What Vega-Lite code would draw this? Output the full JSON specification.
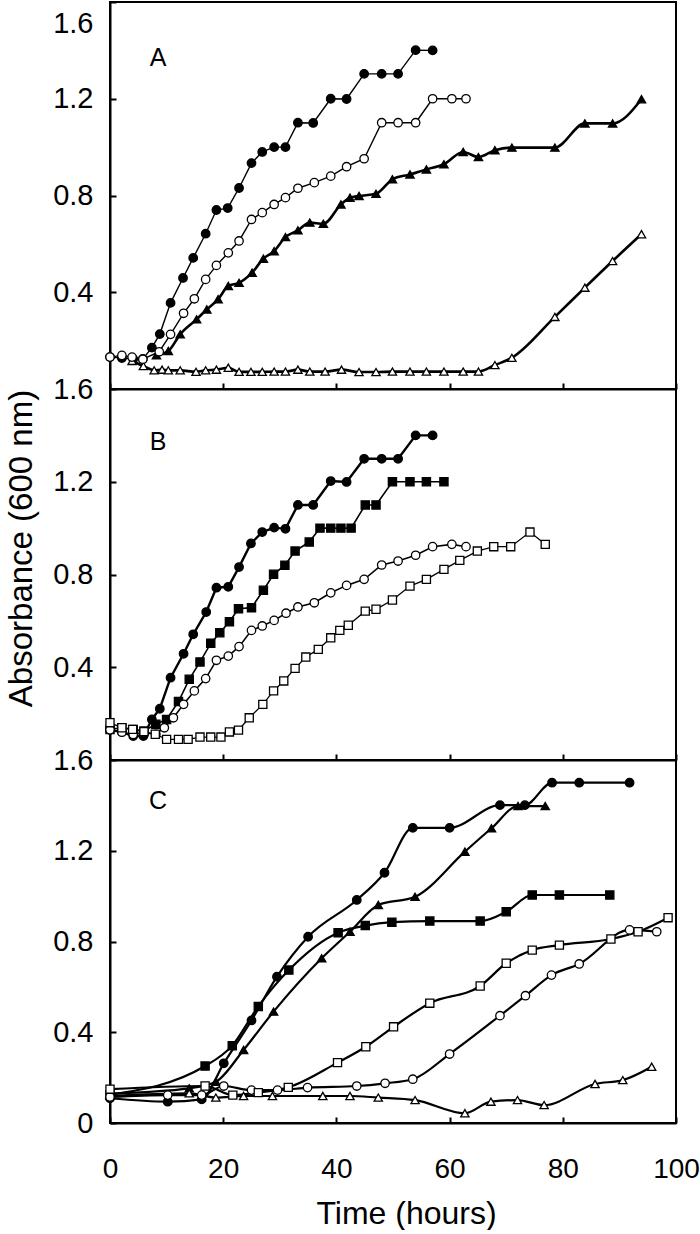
{
"$schema": "https://vega.github.io/schema/vega-lite/v6.json",
"padding": {"left": 4, "top": 0, "right": 2, "bottom": 0},
"spacing": 0,
"bounds": "flush",
"config": {
 "font": "Liberation Sans",
 "view": {"stroke": "black", "strokeWidth": 2},
 "axis": {"labelFont": "Liberation Sans", "titleFont": "Liberation Sans", "labelColor": "black", "titleColor": "black", "domainColor": "black", "tickColor": "black", "domainWidth": 2, "tickWidth": 2, "tickSize": -6, "grid": false, "labelFontSize": 29, "titleFontSize": 33, "titleFontWeight": "normal"},
 "axisY": {"labelPadding": 23, "titlePadding": 14},
 "axisX": {"labelPadding": 38, "titlePadding": 15, "labelFlush": false, "labelFontSize": 28}
},
"datasets": {
 "lab": [{"p":"A","t":8.5,"v":1.37,"txt":"A"},{"p":"B","t":8.5,"v":1.37,"txt":"B"},{"p":"C","t":8.5,"v":1.42,"txt":"C"}],
 "d": [
{"p":"A","s":"fc","t":0,"v":0.132},{"p":"A","s":"fc","t":2.1,"v":0.128},{"p":"A","s":"fc","t":4.1,"v":0.124},{"p":"A","s":"fc","t":5.8,"v":0.124},{"p":"A","s":"fc","t":7.4,"v":0.171},{"p":"A","s":"fc","t":8.8,"v":0.227},{"p":"A","s":"fc","t":10.7,"v":0.356},{"p":"A","s":"fc","t":12.9,"v":0.459},{"p":"A","s":"fc","t":14.7,"v":0.542},{"p":"A","s":"fc","t":16.9,"v":0.642},{"p":"A","s":"fc","t":18.8,"v":0.74},{"p":"A","s":"fc","t":20.8,"v":0.748},{"p":"A","s":"fc","t":22.8,"v":0.831},{"p":"A","s":"fc","t":25,"v":0.934},{"p":"A","s":"fc","t":26.9,"v":0.98},{"p":"A","s":"fc","t":29,"v":1.0},{"p":"A","s":"fc","t":31,"v":1.0},{"p":"A","s":"fc","t":33.2,"v":1.101},{"p":"A","s":"fc","t":35.9,"v":1.1},{"p":"A","s":"fc","t":39,"v":1.2},{"p":"A","s":"fc","t":41.8,"v":1.199},{"p":"A","s":"fc","t":44.9,"v":1.303},{"p":"A","s":"fc","t":48,"v":1.303},{"p":"A","s":"fc","t":50.9,"v":1.303},{"p":"A","s":"fc","t":54,"v":1.401},{"p":"A","s":"fc","t":57,"v":1.4},
{"p":"A","s":"ft","t":8.2,"v":0.14},{"p":"A","s":"ft","t":10.3,"v":0.157},{"p":"A","s":"ft","t":12.4,"v":0.226},{"p":"A","s":"ft","t":15.3,"v":0.288},{"p":"A","s":"ft","t":17.1,"v":0.329},{"p":"A","s":"ft","t":19.1,"v":0.371},{"p":"A","s":"ft","t":20.9,"v":0.426},{"p":"A","s":"ft","t":22.8,"v":0.439},{"p":"A","s":"ft","t":25.1,"v":0.481},{"p":"A","s":"ft","t":27.1,"v":0.539},{"p":"A","s":"ft","t":29,"v":0.57},{"p":"A","s":"ft","t":31,"v":0.628},{"p":"A","s":"ft","t":33.2,"v":0.656},{"p":"A","s":"ft","t":35.3,"v":0.688},{"p":"A","s":"ft","t":37.7,"v":0.683},{"p":"A","s":"ft","t":40.8,"v":0.763},{"p":"A","s":"ft","t":42.4,"v":0.791},{"p":"A","s":"ft","t":44,"v":0.798},{"p":"A","s":"ft","t":47,"v":0.807},{"p":"A","s":"ft","t":49.9,"v":0.867},{"p":"A","s":"ft","t":53,"v":0.887},{"p":"A","s":"ft","t":55.9,"v":0.908},{"p":"A","s":"ft","t":59,"v":0.929},{"p":"A","s":"ft","t":62.4,"v":0.98},{"p":"A","s":"ft","t":65.1,"v":0.959},{"p":"A","s":"ft","t":68,"v":0.987},{"p":"A","s":"ft","t":71,"v":0.998},{"p":"A","s":"ft","t":78.6,"v":0.998},{"p":"A","s":"ft","t":83.9,"v":1.098},{"p":"A","s":"ft","t":88.8,"v":1.098},{"p":"A","s":"ft","t":93.9,"v":1.198},
{"p":"A","s":"ot","t":3.9,"v":0.116},{"p":"A","s":"ot","t":5.9,"v":0.095},{"p":"A","s":"ot","t":7.8,"v":0.077},{"p":"A","s":"ot","t":9.2,"v":0.08},{"p":"A","s":"ot","t":10.3,"v":0.077},{"p":"A","s":"ot","t":12.4,"v":0.077},{"p":"A","s":"ot","t":15.2,"v":0.071},{"p":"A","s":"ot","t":16.9,"v":0.077},{"p":"A","s":"ot","t":18.8,"v":0.08},{"p":"A","s":"ot","t":20.9,"v":0.088},{"p":"A","s":"ot","t":22.8,"v":0.071},{"p":"A","s":"ot","t":24.9,"v":0.071},{"p":"A","s":"ot","t":26.9,"v":0.071},{"p":"A","s":"ot","t":29,"v":0.072},{"p":"A","s":"ot","t":31,"v":0.072},{"p":"A","s":"ot","t":33.2,"v":0.08},{"p":"A","s":"ot","t":35.3,"v":0.072},{"p":"A","s":"ot","t":38,"v":0.072},{"p":"A","s":"ot","t":40.9,"v":0.08},{"p":"A","s":"ot","t":44,"v":0.07},{"p":"A","s":"ot","t":47,"v":0.07},{"p":"A","s":"ot","t":49.9,"v":0.072},{"p":"A","s":"ot","t":53,"v":0.072},{"p":"A","s":"ot","t":55.9,"v":0.072},{"p":"A","s":"ot","t":59,"v":0.072},{"p":"A","s":"ot","t":62.4,"v":0.072},{"p":"A","s":"ot","t":65.1,"v":0.072},{"p":"A","s":"ot","t":68,"v":0.099},{"p":"A","s":"ot","t":71,"v":0.129},{"p":"A","s":"ot","t":78.6,"v":0.298},{"p":"A","s":"ot","t":83.9,"v":0.419},{"p":"A","s":"ot","t":88.8,"v":0.529},{"p":"A","s":"ot","t":93.9,"v":0.64},
{"p":"A","s":"oc","t":0,"v":0.132},{"p":"A","s":"oc","t":2.1,"v":0.139},{"p":"A","s":"oc","t":3.9,"v":0.132},{"p":"A","s":"oc","t":5.8,"v":0.123},{"p":"A","s":"oc","t":8.7,"v":0.154},{"p":"A","s":"oc","t":10.7,"v":0.226},{"p":"A","s":"oc","t":13,"v":0.313},{"p":"A","s":"oc","t":14.9,"v":0.373},{"p":"A","s":"oc","t":16.9,"v":0.453},{"p":"A","s":"oc","t":18.8,"v":0.511},{"p":"A","s":"oc","t":20.9,"v":0.563},{"p":"A","s":"oc","t":22.8,"v":0.612},{"p":"A","s":"oc","t":25,"v":0.701},{"p":"A","s":"oc","t":26.9,"v":0.729},{"p":"A","s":"oc","t":29,"v":0.763},{"p":"A","s":"oc","t":31,"v":0.791},{"p":"A","s":"oc","t":33.2,"v":0.83},{"p":"A","s":"oc","t":36.1,"v":0.853},{"p":"A","s":"oc","t":39,"v":0.88},{"p":"A","s":"oc","t":41.8,"v":0.919},{"p":"A","s":"oc","t":44.9,"v":0.952},{"p":"A","s":"oc","t":48,"v":1.101},{"p":"A","s":"oc","t":50.9,"v":1.101},{"p":"A","s":"oc","t":54,"v":1.101},{"p":"A","s":"oc","t":57,"v":1.2},{"p":"A","s":"oc","t":60.4,"v":1.2},{"p":"A","s":"oc","t":62.9,"v":1.2},
{"p":"B","s":"fc","t":0,"v":0.13},{"p":"B","s":"fc","t":2.1,"v":0.12},{"p":"B","s":"fc","t":4.1,"v":0.103},{"p":"B","s":"fc","t":5.9,"v":0.103},{"p":"B","s":"fc","t":7.4,"v":0.175},{"p":"B","s":"fc","t":8.8,"v":0.221},{"p":"B","s":"fc","t":10.7,"v":0.355},{"p":"B","s":"fc","t":13,"v":0.458},{"p":"B","s":"fc","t":14.7,"v":0.542},{"p":"B","s":"fc","t":17,"v":0.638},{"p":"B","s":"fc","t":18.8,"v":0.743},{"p":"B","s":"fc","t":20.9,"v":0.747},{"p":"B","s":"fc","t":22.8,"v":0.832},{"p":"B","s":"fc","t":24.9,"v":0.934},{"p":"B","s":"fc","t":26.9,"v":0.983},{"p":"B","s":"fc","t":29,"v":1.002},{"p":"B","s":"fc","t":31,"v":0.997},{"p":"B","s":"fc","t":33.2,"v":1.1},{"p":"B","s":"fc","t":35.9,"v":1.1},{"p":"B","s":"fc","t":39,"v":1.203},{"p":"B","s":"fc","t":41.8,"v":1.199},{"p":"B","s":"fc","t":44.9,"v":1.299},{"p":"B","s":"fc","t":48,"v":1.299},{"p":"B","s":"fc","t":50.9,"v":1.299},{"p":"B","s":"fc","t":54,"v":1.4},{"p":"B","s":"fc","t":57,"v":1.4},
{"p":"B","s":"fs","t":0,"v":0.132},{"p":"B","s":"fs","t":2.1,"v":0.139},{"p":"B","s":"fs","t":4.1,"v":0.132},{"p":"B","s":"fs","t":6,"v":0.125},{"p":"B","s":"fs","t":8.1,"v":0.154},{"p":"B","s":"fs","t":10,"v":0.175},{"p":"B","s":"fs","t":12.1,"v":0.252},{"p":"B","s":"fs","t":14,"v":0.348},{"p":"B","s":"fs","t":15.9,"v":0.423},{"p":"B","s":"fs","t":17.8,"v":0.503},{"p":"B","s":"fs","t":19.4,"v":0.549},{"p":"B","s":"fs","t":21.1,"v":0.596},{"p":"B","s":"fs","t":22.7,"v":0.652},{"p":"B","s":"fs","t":25,"v":0.657},{"p":"B","s":"fs","t":27.1,"v":0.732},{"p":"B","s":"fs","t":28.9,"v":0.801},{"p":"B","s":"fs","t":30.9,"v":0.84},{"p":"B","s":"fs","t":32.7,"v":0.901},{"p":"B","s":"fs","t":35.2,"v":0.94},{"p":"B","s":"fs","t":37.1,"v":1.0},{"p":"B","s":"fs","t":39,"v":1.0},{"p":"B","s":"fs","t":40.8,"v":1.0},{"p":"B","s":"fs","t":42.6,"v":1.0},{"p":"B","s":"fs","t":45.1,"v":1.1},{"p":"B","s":"fs","t":47,"v":1.1},{"p":"B","s":"fs","t":49.9,"v":1.2},{"p":"B","s":"fs","t":53,"v":1.2},{"p":"B","s":"fs","t":55.9,"v":1.2},{"p":"B","s":"fs","t":59,"v":1.2},
{"p":"B","s":"oc","t":0,"v":0.13},{"p":"B","s":"oc","t":2.1,"v":0.12},{"p":"B","s":"oc","t":4.1,"v":0.11},{"p":"B","s":"oc","t":5.9,"v":0.118},{"p":"B","s":"oc","t":8.1,"v":0.111},{"p":"B","s":"oc","t":9.6,"v":0.139},{"p":"B","s":"oc","t":11.2,"v":0.182},{"p":"B","s":"oc","t":13,"v":0.24},{"p":"B","s":"oc","t":14.9,"v":0.298},{"p":"B","s":"oc","t":16.9,"v":0.351},{"p":"B","s":"oc","t":18.8,"v":0.43},{"p":"B","s":"oc","t":20.9,"v":0.448},{"p":"B","s":"oc","t":22.8,"v":0.489},{"p":"B","s":"oc","t":25,"v":0.559},{"p":"B","s":"oc","t":26.9,"v":0.578},{"p":"B","s":"oc","t":29,"v":0.602},{"p":"B","s":"oc","t":31.1,"v":0.633},{"p":"B","s":"oc","t":33.2,"v":0.66},{"p":"B","s":"oc","t":36.1,"v":0.678},{"p":"B","s":"oc","t":39,"v":0.721},{"p":"B","s":"oc","t":41.8,"v":0.753},{"p":"B","s":"oc","t":44.9,"v":0.779},{"p":"B","s":"oc","t":48,"v":0.841},{"p":"B","s":"oc","t":50.9,"v":0.858},{"p":"B","s":"oc","t":54,"v":0.883},{"p":"B","s":"oc","t":57,"v":0.92},{"p":"B","s":"oc","t":60.4,"v":0.93},{"p":"B","s":"oc","t":62.9,"v":0.92},
{"p":"B","s":"os","t":0,"v":0.161},{"p":"B","s":"os","t":2.1,"v":0.139},{"p":"B","s":"os","t":4,"v":0.132},{"p":"B","s":"os","t":6,"v":0.122},{"p":"B","s":"os","t":8,"v":0.111},{"p":"B","s":"os","t":10,"v":0.089},{"p":"B","s":"os","t":12.1,"v":0.089},{"p":"B","s":"os","t":13.8,"v":0.089},{"p":"B","s":"os","t":15.9,"v":0.099},{"p":"B","s":"os","t":17.8,"v":0.099},{"p":"B","s":"os","t":19.6,"v":0.099},{"p":"B","s":"os","t":21.1,"v":0.121},{"p":"B","s":"os","t":22.7,"v":0.129},{"p":"B","s":"os","t":24.6,"v":0.182},{"p":"B","s":"os","t":27,"v":0.24},{"p":"B","s":"os","t":28.9,"v":0.298},{"p":"B","s":"os","t":30.7,"v":0.341},{"p":"B","s":"os","t":32.7,"v":0.395},{"p":"B","s":"os","t":34.6,"v":0.444},{"p":"B","s":"os","t":36.8,"v":0.477},{"p":"B","s":"os","t":39,"v":0.527},{"p":"B","s":"os","t":40.6,"v":0.559},{"p":"B","s":"os","t":42.1,"v":0.581},{"p":"B","s":"os","t":45.1,"v":0.642},{"p":"B","s":"os","t":47,"v":0.65},{"p":"B","s":"os","t":49.9,"v":0.69},{"p":"B","s":"os","t":53,"v":0.75},{"p":"B","s":"os","t":55.9,"v":0.779},{"p":"B","s":"os","t":59,"v":0.822},{"p":"B","s":"os","t":61.8,"v":0.861},{"p":"B","s":"os","t":64.9,"v":0.901},{"p":"B","s":"os","t":67.8,"v":0.92},{"p":"B","s":"os","t":70.8,"v":0.92},{"p":"B","s":"os","t":74.2,"v":0.983},{"p":"B","s":"os","t":76.9,"v":0.93},
{"p":"C","s":"fc","t":0,"v":0.109},{"p":"C","s":"fc","t":10.2,"v":0.094},{"p":"C","s":"fc","t":16.2,"v":0.104},{"p":"C","s":"fc","t":20.1,"v":0.263},{"p":"C","s":"fc","t":25,"v":0.452},{"p":"C","s":"fc","t":29.5,"v":0.645},{"p":"C","s":"fc","t":35,"v":0.821},{"p":"C","s":"fc","t":43.6,"v":0.983},{"p":"C","s":"fc","t":48.5,"v":1.103},{"p":"C","s":"fc","t":53.5,"v":1.301},{"p":"C","s":"fc","t":60,"v":1.301},{"p":"C","s":"fc","t":68.9,"v":1.401},{"p":"C","s":"fc","t":73.3,"v":1.401},{"p":"C","s":"fc","t":78.1,"v":1.5},{"p":"C","s":"fc","t":82.9,"v":1.5},{"p":"C","s":"fc","t":91.8,"v":1.5},
{"p":"C","s":"fs","t":0,"v":0.125},{"p":"C","s":"fs","t":16.8,"v":0.251},{"p":"C","s":"fs","t":21.6,"v":0.341},{"p":"C","s":"fs","t":26.2,"v":0.514},{"p":"C","s":"fs","t":31.6,"v":0.674},{"p":"C","s":"fs","t":40.3,"v":0.839},{"p":"C","s":"fs","t":45.1,"v":0.87},{"p":"C","s":"fs","t":49.8,"v":0.885},{"p":"C","s":"fs","t":56.5,"v":0.89},{"p":"C","s":"fs","t":65.4,"v":0.89},{"p":"C","s":"fs","t":70,"v":0.931},{"p":"C","s":"fs","t":74.6,"v":1.005},{"p":"C","s":"fs","t":79.4,"v":1.005},{"p":"C","s":"fs","t":88.3,"v":1.005},
{"p":"C","s":"ft","t":0,"v":0.13},{"p":"C","s":"ft","t":14,"v":0.153},{"p":"C","s":"ft","t":18.7,"v":0.182},{"p":"C","s":"ft","t":23.6,"v":0.322},{"p":"C","s":"ft","t":28.9,"v":0.491},{"p":"C","s":"ft","t":37.4,"v":0.726},{"p":"C","s":"ft","t":42.4,"v":0.843},{"p":"C","s":"ft","t":47.4,"v":0.961},{"p":"C","s":"ft","t":53.9,"v":0.997},{"p":"C","s":"ft","t":62.7,"v":1.196},{"p":"C","s":"ft","t":67.4,"v":1.299},{"p":"C","s":"ft","t":72.1,"v":1.397},{"p":"C","s":"ft","t":76.9,"v":1.397},
{"p":"C","s":"ot","t":0,"v":0.12},{"p":"C","s":"ot","t":14,"v":0.131},{"p":"C","s":"ot","t":18.7,"v":0.112},{"p":"C","s":"ot","t":23.6,"v":0.119},{"p":"C","s":"ot","t":28.7,"v":0.119},{"p":"C","s":"ot","t":37.6,"v":0.119},{"p":"C","s":"ot","t":42.4,"v":0.119},{"p":"C","s":"ot","t":47.4,"v":0.112},{"p":"C","s":"ot","t":53.9,"v":0.101},{"p":"C","s":"ot","t":62.7,"v":0.043},{"p":"C","s":"ot","t":67.3,"v":0.094},{"p":"C","s":"ot","t":72,"v":0.101},{"p":"C","s":"ot","t":76.7,"v":0.079},{"p":"C","s":"ot","t":85.7,"v":0.172},{"p":"C","s":"ot","t":90.6,"v":0.189},{"p":"C","s":"ot","t":95.7,"v":0.248},
{"p":"C","s":"oc","t":0,"v":0.115},{"p":"C","s":"oc","t":10.2,"v":0.123},{"p":"C","s":"oc","t":16.2,"v":0.123},{"p":"C","s":"oc","t":20.1,"v":0.163},{"p":"C","s":"oc","t":25,"v":0.145},{"p":"C","s":"oc","t":29.6,"v":0.145},{"p":"C","s":"oc","t":34.9,"v":0.156},{"p":"C","s":"oc","t":43.6,"v":0.163},{"p":"C","s":"oc","t":48.6,"v":0.175},{"p":"C","s":"oc","t":53.5,"v":0.193},{"p":"C","s":"oc","t":60,"v":0.304},{"p":"C","s":"oc","t":68.9,"v":0.473},{"p":"C","s":"oc","t":73.4,"v":0.561},{"p":"C","s":"oc","t":78,"v":0.652},{"p":"C","s":"oc","t":82.9,"v":0.701},{"p":"C","s":"oc","t":91.8,"v":0.851},{"p":"C","s":"oc","t":96.6,"v":0.843},
{"p":"C","s":"os","t":0,"v":0.149},{"p":"C","s":"os","t":16.8,"v":0.163},{"p":"C","s":"os","t":21.7,"v":0.123},{"p":"C","s":"os","t":26.2,"v":0.134},{"p":"C","s":"os","t":31.5,"v":0.157},{"p":"C","s":"os","t":40.2,"v":0.266},{"p":"C","s":"os","t":45.2,"v":0.336},{"p":"C","s":"os","t":50.1,"v":0.424},{"p":"C","s":"os","t":56.5,"v":0.528},{"p":"C","s":"os","t":65.4,"v":0.604},{"p":"C","s":"os","t":70,"v":0.704},{"p":"C","s":"os","t":74.6,"v":0.762},{"p":"C","s":"os","t":79.4,"v":0.784},{"p":"C","s":"os","t":88.5,"v":0.811},{"p":"C","s":"os","t":93.3,"v":0.843},{"p":"C","s":"os","t":98.6,"v":0.905}
 ]
},
"vconcat": [
 {
  "width": 566, "height": 387,
  "encoding": {
   "x": {"field": "t", "type": "quantitative", "scale": {"domain": [0, 100], "nice": false, "zero": false}, "axis": {"values": [0, 20, 40, 60, 80, 100], "labels": false, "title": null}},
   "y": {"field": "v", "type": "quantitative", "scale": {"domain": [0, 1.6], "nice": false}, "axis": {"values": [0.4, 0.8, 1.2, 1.6], "labelFlush": true, "labelFlushOffset": -7, "title": null, "labelExpr": "datum.value === 0 ? '0' : format(datum.value, '.1f')"}}
  },
  "layer": [
   {"data": {"name": "d"}, "transform": [{"filter": "datum.p === 'A' && (datum.s === 'fc' || datum.s === 'oc')"}], "mark": {"type": "line", "color": "black", "strokeWidth": 1.4}, "encoding": {"detail": {"field": "s"}}},
   {"data": {"name": "d"}, "transform": [{"filter": "datum.p === 'A' && (datum.s === 'ft' || datum.s === 'ot')"}], "mark": {"type": "line", "color": "black", "strokeWidth": 2.6, "interpolate": "monotone"}, "encoding": {"detail": {"field": "s"}}},
   {"data": {"name": "d"}, "transform": [{"filter": "datum.p === 'A'"}], "mark": {"type": "point", "filled": true, "stroke": "black", "strokeWidth": 1.3, "opacity": 1},
    "encoding": {
     "shape": {"field": "s", "type": "nominal", "scale": {"domain": ["fc","oc","ft","ot","fs","os"], "range": ["circle","circle","triangle-up","triangle-up","square","square"]}, "legend": null},
     "fill": {"field": "s", "type": "nominal", "scale": {"domain": ["fc","oc","ft","ot","fs","os"], "range": ["black","white","black","white","black","white"]}, "legend": null},
     "size": {"field": "s", "type": "nominal", "scale": {"domain": ["fc","oc","ft","ot","fs","os"], "range": [72,66,115,115,85,85]}, "legend": null}
    }},
   {"data": {"name": "lab"}, "transform": [{"filter": "datum.p === 'A'"}], "mark": {"type": "text", "fontSize": 25, "font": "Liberation Sans", "color": "black"}, "encoding": {"text": {"field": "txt"}}}
  ]
 },
 {
  "width": 566, "height": 371,
  "encoding": {
   "x": {"field": "t", "type": "quantitative", "scale": {"domain": [0, 100], "nice": false, "zero": false}, "axis": {"values": [0, 20, 40, 60, 80, 100], "labels": false, "title": null}},
   "y": {"field": "v", "type": "quantitative", "scale": {"domain": [0, 1.6], "nice": false}, "axis": {"values": [0.4, 0.8, 1.2, 1.6], "labelFlush": false, "title": "Absorbance (600 nm)", "titleY": 159, "labelExpr": "datum.value === 0 ? '0' : format(datum.value, '.1f')"}}
  },
  "layer": [
   {"data": {"name": "d"}, "transform": [{"filter": "datum.p === 'B' && datum.s === 'fc'"}], "mark": {"type": "line", "color": "black", "strokeWidth": 2.4}, "encoding": {}},
   {"data": {"name": "d"}, "transform": [{"filter": "datum.p === 'B' && (datum.s === 'fs' || datum.s === 'oc')"}], "mark": {"type": "line", "color": "black", "strokeWidth": 1.6}, "encoding": {"detail": {"field": "s"}}},
   {"data": {"name": "d"}, "transform": [{"filter": "datum.p === 'B' && datum.s === 'os'"}], "mark": {"type": "line", "color": "black", "strokeWidth": 1.3}, "encoding": {}},
   {"data": {"name": "d"}, "transform": [{"filter": "datum.p === 'B'"}], "mark": {"type": "point", "filled": true, "stroke": "black", "strokeWidth": 1.3, "opacity": 1},
    "encoding": {
     "shape": {"field": "s", "type": "nominal", "scale": {"domain": ["fc","oc","ft","ot","fs","os"], "range": ["circle","circle","triangle-up","triangle-up","square","square"]}, "legend": null},
     "fill": {"field": "s", "type": "nominal", "scale": {"domain": ["fc","oc","ft","ot","fs","os"], "range": ["black","white","black","white","black","white"]}, "legend": null},
     "size": {"field": "s", "type": "nominal", "scale": {"domain": ["fc","oc","ft","ot","fs","os"], "range": [72,66,115,115,85,85]}, "legend": null}
    }},
   {"data": {"name": "lab"}, "transform": [{"filter": "datum.p === 'B'"}], "mark": {"type": "text", "fontSize": 25, "font": "Liberation Sans", "color": "black"}, "encoding": {"text": {"field": "txt"}}}
  ]
 },
 {
  "width": 566, "height": 363,
  "encoding": {
   "x": {"field": "t", "type": "quantitative", "scale": {"domain": [0, 100], "nice": false, "zero": false}, "axis": {"values": [0, 20, 40, 60, 80, 100], "title": "Time (hours)", "titleFontSize": 32, "titleX": 296}},
   "y": {"field": "v", "type": "quantitative", "scale": {"domain": [0, 1.6], "nice": false}, "axis": {"values": [0, 0.4, 0.8, 1.2, 1.6], "labelFlush": false, "title": null, "labelExpr": "datum.value === 0 ? '0' : format(datum.value, '.1f')"}}
  },
  "layer": [
   {"data": {"name": "d"}, "transform": [{"filter": "datum.p === 'C'"}], "mark": {"type": "line", "color": "black", "strokeWidth": 2.2, "interpolate": "monotone"}, "encoding": {"detail": {"field": "s"}}},
   {"data": {"name": "d"}, "transform": [{"filter": "datum.p === 'C'"}], "mark": {"type": "point", "filled": true, "stroke": "black", "strokeWidth": 1.3, "opacity": 1},
    "encoding": {
     "shape": {"field": "s", "type": "nominal", "scale": {"domain": ["fc","oc","ft","ot","fs","os"], "range": ["circle","circle","triangle-up","triangle-up","square","square"]}, "legend": null},
     "fill": {"field": "s", "type": "nominal", "scale": {"domain": ["fc","oc","ft","ot","fs","os"], "range": ["black","white","black","white","black","white"]}, "legend": null},
     "size": {"field": "s", "type": "nominal", "scale": {"domain": ["fc","oc","ft","ot","fs","os"], "range": [72,66,115,115,85,85]}, "legend": null}
    }},
   {"data": {"name": "lab"}, "transform": [{"filter": "datum.p === 'C'"}], "mark": {"type": "text", "fontSize": 25, "font": "Liberation Sans", "color": "black"}, "encoding": {"text": {"field": "txt"}}}
  ]
 }
]
}
